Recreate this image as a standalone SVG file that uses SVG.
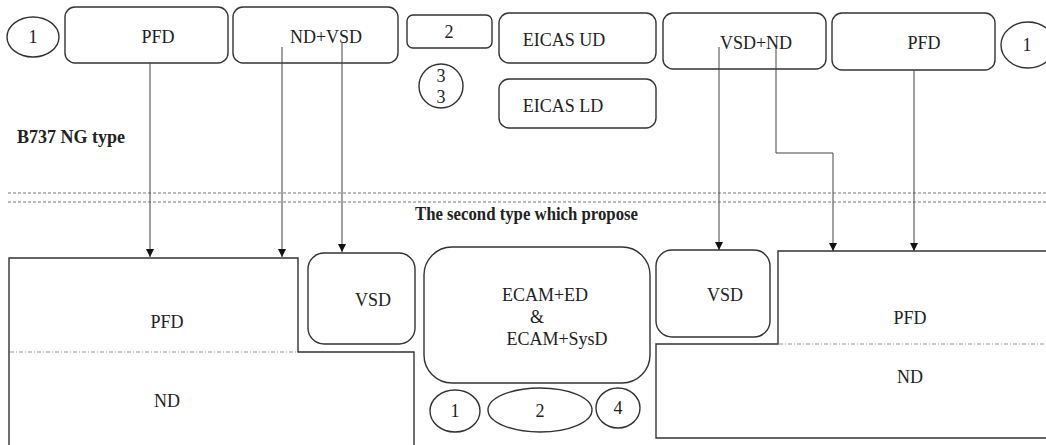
<svg xmlns="http://www.w3.org/2000/svg" width="1046" height="445" viewBox="0 0 1046 445">
<style>
text{font-family:"Liberation Serif","Times New Roman",serif;font-size:18px;fill:#222;text-anchor:middle}
.b{font-weight:bold;text-anchor:start}
.box{fill:#fff;stroke:#333;stroke-width:1.4}
.con{fill:none;stroke:#444;stroke-width:1}
.dash{fill:none;stroke:#555;stroke-width:0.8;stroke-dasharray:3 2}
.dd{fill:none;stroke:#999;stroke-width:1;stroke-dasharray:4 2 1 2}
</style>
<defs>
<marker id="ar" markerWidth="8" markerHeight="8" refX="8" refY="4" orient="auto" markerUnits="userSpaceOnUse">
<path d="M0,0 L8,4 L0,8 Z" fill="#111"/>
</marker>
</defs>
<rect width="1046" height="445" fill="#fff"/>
<g id="separator">
<line class="dash" x1="8" y1="193" x2="1046" y2="193"/>
<line class="dash" x1="8" y1="202" x2="1046" y2="202"/>
</g>
<text class="b" x="17" y="143" font-size="17" textLength="108" lengthAdjust="spacingAndGlyphs">B737 NG type</text>
<text class="b" x="415" y="220" font-size="15" textLength="223" lengthAdjust="spacingAndGlyphs">The second type which propose</text>

<g id="n-c1-left"><ellipse class="box" cx="33" cy="37" rx="26" ry="20"/><text x="33" y="43" font-size="16">1</text></g>
<g id="n-pfd-top-left"><rect class="box" x="65" y="7" width="163" height="56" rx="10"/><text x="158" y="43">PFD</text></g>
<g id="n-ndvsd-top"><rect class="box" x="233" y="7" width="165" height="56" rx="10"/><text x="326" y="43">ND+VSD</text></g>
<g id="n-2-top"><rect class="box" x="407" y="15" width="85" height="33" rx="6"/><text x="449" y="38" font-size="16">2</text></g>
<g id="n-33"><ellipse class="box" cx="441" cy="86" rx="22" ry="22"/><text x="441" y="82" font-size="15">3</text><text x="441" y="103" font-size="15">3</text></g>
<g id="n-eicas-ud"><rect class="box" x="499" y="13" width="157" height="50" rx="10"/><text x="564" y="46">EICAS UD</text></g>
<g id="n-eicas-ld"><rect class="box" x="499" y="79" width="157" height="49" rx="10"/><text x="563" y="112">EICAS LD</text></g>
<g id="n-vsdnd-top"><rect class="box" x="663" y="13" width="163" height="56" rx="10"/><text x="756" y="49">VSD+ND</text></g>
<g id="n-pfd-top-right"><rect class="box" x="832" y="13" width="163" height="57" rx="10"/><text x="924" y="49">PFD</text></g>
<g id="n-c1-right"><ellipse class="box" cx="1028" cy="45" rx="27" ry="23"/><text x="1027" y="51" font-size="16">1</text></g>

<g id="n-left-pfdnd">
<path class="box" d="M9,447 V258 H298 V352 H414 V447"/>
<line class="dd" x1="10" y1="352" x2="297" y2="352"/>
<text x="167" y="328">PFD</text>
<text x="167" y="407">ND</text>
</g>
<g id="n-vsd-left"><rect class="box" x="308" y="253" width="107" height="91" rx="16"/><text x="373" y="306">VSD</text></g>
<g id="n-ecam"><rect class="box" x="424" y="247" width="226" height="136" rx="28"/>
<text x="545" y="301">ECAM+ED</text><text x="537" y="323">&amp;</text><text x="557" y="345">ECAM+SysD</text></g>
<g id="n-c1-bottom"><ellipse class="box" cx="455" cy="411" rx="25" ry="21"/><text x="455" y="417" font-size="16">1</text></g>
<g id="n-c2-bottom"><ellipse class="box" cx="540" cy="410" rx="52" ry="22"/><text x="540" y="417" font-size="16">2</text></g>
<g id="n-c4-bottom"><ellipse class="box" cx="618" cy="408" rx="22" ry="20"/><text x="618" y="414" font-size="16">4</text></g>
<g id="n-vsd-right"><rect class="box" x="656" y="250" width="114" height="87" rx="16"/><text x="725" y="301">VSD</text></g>
<g id="n-right-pfdnd">
<path class="box" d="M1048,251 H778 V344 H656 V438 H1048"/>
<line class="dd" x1="779" y1="344" x2="1046" y2="344"/>
<text x="910" y="324">PFD</text>
<text x="910" y="383">ND</text>
</g>

<g id="connectors">
<path class="con" d="M150,63 V257" marker-end="url(#ar)"/>
<path class="con" d="M282,47 V257" marker-end="url(#ar)"/>
<path class="con" d="M342,43 V252" marker-end="url(#ar)"/>
<path class="con" d="M719,47 V250" marker-end="url(#ar)"/>
<path class="con" d="M776,47 V153 H833 V251" marker-end="url(#ar)"/>
<path class="con" d="M914,70 V251" marker-end="url(#ar)"/>
</g>
</svg>
